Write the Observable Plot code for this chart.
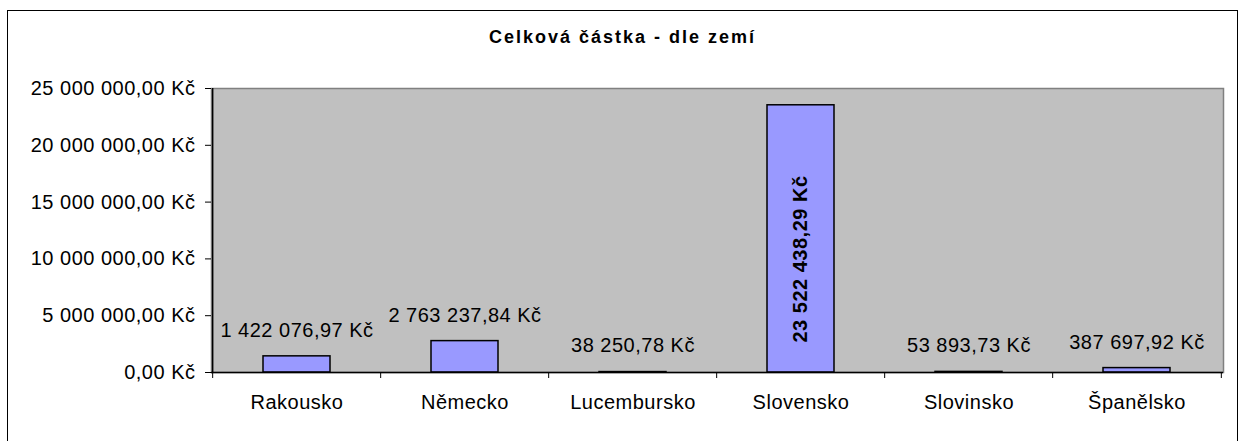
<!DOCTYPE html>
<html>
<head>
<meta charset="utf-8">
<script src="https://cdn.jsdelivr.net/npm/d3@7"></script>
<script src="https://cdn.jsdelivr.net/npm/@observablehq/plot@0.6"></script>
<style>
  html, body { margin: 0; padding: 0; background: #fff; }
  #chart {
    position: absolute; left: 7px; top: 10px; width: 1229px; height: 440px;
    border-left: 1px solid #000; border-top: 1px solid #000; border-right: 1px solid #000;
    font-family: "Liberation Sans", Arial, sans-serif; overflow: hidden;
  }
  #title {
    height: 44px; box-sizing: border-box; padding-top: 16px;
    font-size: 18px; line-height: 20px; font-weight: bold; letter-spacing: 2px;
    text-align: center; color: #000;
  }
  #chart svg text { letter-spacing: 0.5px; }
</style>
</head>
<body>
<div id="chart"><div id="title">Celková částka - dle zemí</div></div>
<script>
const categories = ["Rakousko", "Německo", "Lucembursko", "Slovensko", "Slovinsko", "Španělsko"];
const values = [1422076.97, 2763237.84, 38250.78, 23522438.29, 53893.73, 387697.92];
const yTicks = [0, 5000000, 10000000, 15000000, 20000000, 25000000];
const insideLabelCategory = "Slovensko";

const data = categories.map((c, i) => ({category: c, value: values[i]}));
const fmt = d3.formatLocale({decimal: ",", thousands: " ", grouping: [3], currency: ["", " Kč"]}).format("$,.2f");

const W = 1229, H = 386, mL = 203, mR = 14, mT = 33, mB = 69;
const step = (W - mL - mR) / categories.length;

const plot = Plot.plot({
  width: W, height: H,
  marginLeft: mL, marginRight: mR, marginTop: mT, marginBottom: mB,
  style: {fontFamily: "Liberation Sans, Arial, sans-serif", fontSize: "20px", color: "#000", background: "transparent"},
  x: {domain: categories, paddingInner: 0.6, paddingOuter: 0.3, label: null},
  y: {domain: [0, 25000000], label: null},
  marks: [
    Plot.frame({fill: "#C0C0C0", stroke: "#808080", strokeWidth: 1.5}),
    Plot.barY(data, {x: "category", y: "value", fill: "#9999FF", stroke: "#000", strokeWidth: 1.5}),
    Plot.ruleY([0], {stroke: "#000", strokeWidth: 1.5}),
    Plot.ruleX([categories[0]], {x: d => d, y1: 0, y2: 25000000, dx: -step / 2, stroke: "#000", strokeWidth: 1.5}),
    Plot.ruleX(categories, {x: d => d, y1: 0, y2: 0, insetBottom: -6, dx: -step / 2, stroke: "#000"}),
    Plot.ruleX([categories[categories.length - 1]], {x: d => d, y1: 0, y2: 0, insetBottom: -6, dx: step / 2, stroke: "#000"}),
    Plot.axisY({ticks: yTicks, tickFormat: fmt, tickSize: 6, tickPadding: 10, fontSize: 20, label: null}),
    Plot.axisX({tickSize: 0, tickPadding: 22, fontSize: 20, label: null}),
    Plot.text(data.filter(d => d.category !== insideLabelCategory), {
      x: "category", y: "value", text: d => fmt(d.value), dy: -26,
      lineAnchor: "middle", fontSize: 20, fill: "#000"
    }),
    Plot.text(data.filter(d => d.category === insideLabelCategory), {
      x: "category", y: 0, text: d => fmt(d.value), rotate: -90, dy: -30,
      textAnchor: "start", lineAnchor: "middle", fontSize: 20, fontWeight: "bold", fill: "#000"
    })
  ]
});
document.getElementById("chart").appendChild(plot);
</script>
</body>
</html>
